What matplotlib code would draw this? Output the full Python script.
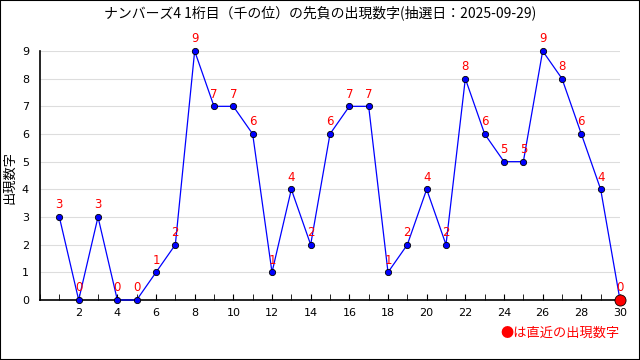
import matplotlib
matplotlib.use('Agg')
import matplotlib.pyplot as plt
from matplotlib.ticker import MultipleLocator

plt.rcParams['font.family'] = ['DejaVu Sans', 'Noto Sans CJK JP']

# 回数と出現数字
kai = list(range(1, 31))
suuji = [3, 0, 3, 0, 0, 1, 2, 9, 7, 7, 6, 1, 4, 2, 6, 7, 7, 1, 2, 4,
         2, 8, 6, 5, 5, 9, 8, 6, 4, 0]
title = 'ナンバーズ4 1桁目（千の位）の先負の出現数字(抽選日：2025-09-29)'

fig = plt.figure(figsize=(6.4, 3.6), dpi=100)
ax = fig.add_axes([40/640, 1 - 300/360, 580/640, 249/360])

ax.plot(kai, suuji, color='blue', lw=0.9, marker='o', ms=4.5,
        mfc='blue', mec='black', mew=0.6, zorder=3, clip_on=False)
ax.plot(kai[-1], suuji[-1], 'o', ms=8, mfc='red', mec='black', mew=0.6,
        zorder=4, clip_on=False)
for x, y in zip(kai, suuji):
    ax.annotate(str(y), (x, y), xytext=(0, 4), textcoords='offset points',
                ha='center', va='bottom', color='red', fontsize=8.5, zorder=5,
                annotation_clip=False)

ax.set_xlim(0, 30)
ax.set_ylim(0, 9)
ax.xaxis.set_minor_locator(MultipleLocator(1))
ax.set_xticks(range(2, 31, 2))
ax.set_yticks(range(0, 10))
ax.tick_params(axis='x', which='both', direction='in', length=4, labelsize=8, pad=6)
ax.tick_params(axis='y', length=0, labelsize=8, pad=8)
ax.grid(axis='y', color='#dddddd', lw=0.8)
ax.set_axisbelow(True)
for s in ['top', 'right']:
    ax.spines[s].set_visible(False)
for s in ['left', 'bottom']:
    ax.spines[s].set_color('black')
    ax.spines[s].set_linewidth(1.2)

fig.text(10/640, 1 - 177/360, '出現数字', family=['Noto Sans CJK JP'], fontsize=9.5,
         rotation=90, ha='center', va='center')
fig.text(0.5, 1 - 13/360, title, family=['Noto Sans CJK JP', 'DejaVu Sans'],
         ha='center', va='center', fontsize=10)
fig.text(620/640, 1 - 333/360, '●は直近の出現数字', family=['Noto Sans CJK JP', 'DejaVu Sans'],
         ha='right', va='center', color='red', fontsize=9.5)

fig.patches.append(plt.Rectangle((0, 0), 1, 1, transform=fig.transFigure,
                                 fill=False, ec='black', lw=1.5))

fig.savefig('out.png', dpi=100)
